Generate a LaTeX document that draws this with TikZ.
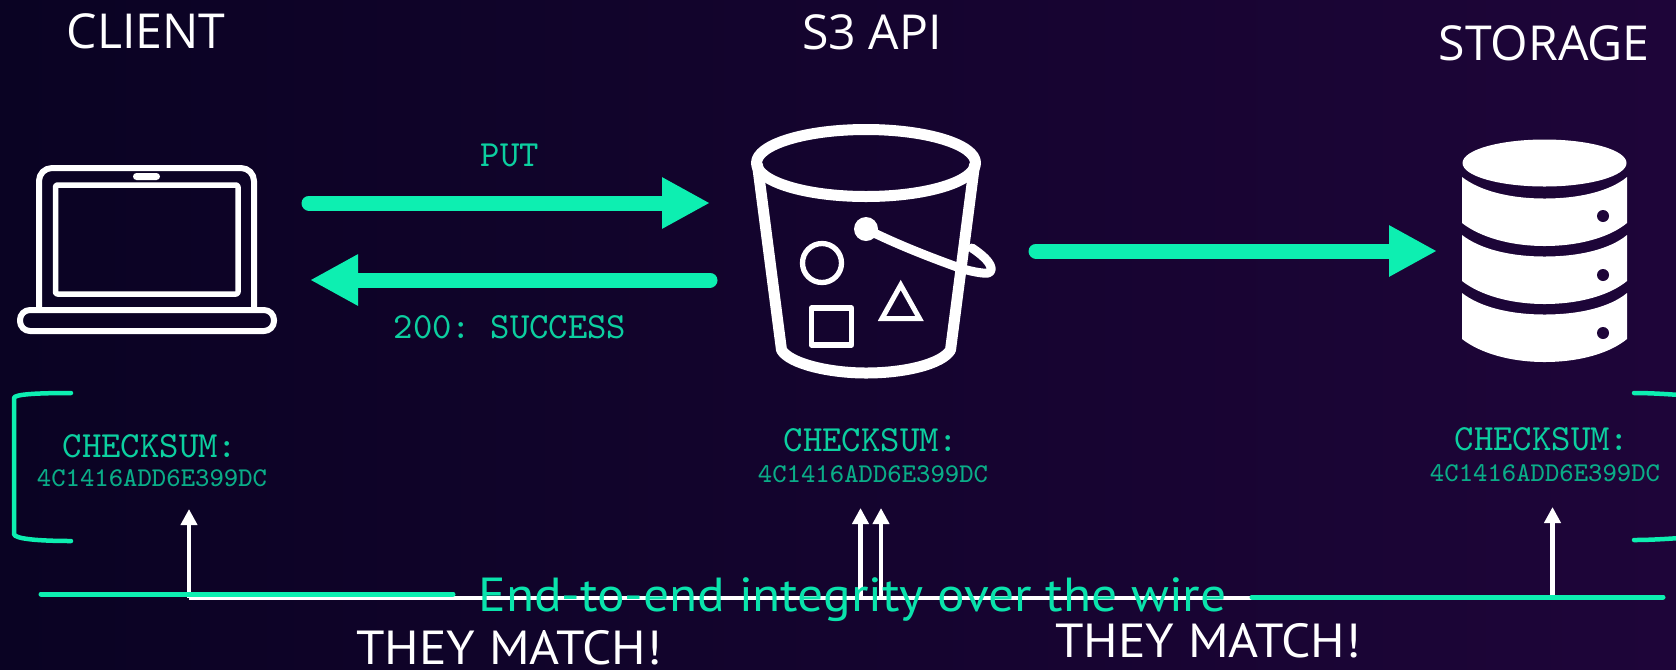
\documentclass[tikz,border=0pt]{standalone}
\usepackage{fontspec}
\usepackage{xcolor}
\usetikzlibrary{arrows.meta, positioning}
\newfontfamily\headfont{Open Sans}
\newfontfamily\matchfont{PT Sans}
\definecolor{bgleft}{HTML}{0A0323}
\definecolor{bgmid}{HTML}{130330}
\definecolor{bgright}{HTML}{1E0539}
\definecolor{mint}{HTML}{0DEFB1}
\definecolor{minttext}{HTML}{0CCFA0}
\definecolor{mintdim}{HTML}{0AAD88}
\definecolor{mintbright}{HTML}{0AE3AC}
\newcommand{\widetext}[1]{\scalebox{1.075}[1]{#1}}
\tikzset{%
	heading/.style={
		inner sep=0pt,
		text=white,
		font=\headfont\fontsize{13.7}{16}\selectfont
	},
	matchlabel/.style={
		inner sep=0pt,
		text=white,
		font=\matchfont\fontsize{13.6}{16}\selectfont
	},
	monolabel/.style={
		inner sep=0pt,
		text=minttext,
		font=\ttfamily\frenchspacing\fontsize{10.5}{12}\selectfont
	},
	hashlabel/.style={
		inner sep=0pt,
		text=mintdim,
		font=\ttfamily\fontsize{7.7}{10}\selectfont
	},
	flowarrow/.style={
		draw=mint,
		line cap=round,
		line width=15*0.01cm,
		-{Triangle[length=48*0.01cm,width=48*0.01cm]}
	},
	checkarrow/.style={
		draw=white,
		line width=4.5*0.01cm,
		-{Triangle[length=16*0.01cm,width=16*0.01cm]}
	},
	wireline/.style={
		draw=mint,
		line cap=round,
		line width=5*0.01cm
	},
	bracketline/.style={
		draw=mint,
		line cap=round,
		line join=round,
		line width=4.5*0.01cm
	},
	iconline/.style={
		draw=white,
		line join=round,
		line width=#1*0.01cm
	},
}
\begin{document}
\begin{tikzpicture}[x=0.01cm,y=-0.01cm]
	% Background
	\useasboundingbox (0,0) rectangle (1676,669);
	\fill[left color=bgleft,middle color=bgmid,right color=bgright] (0,0) rectangle (1676,669);
	
	% Titles
	\node[heading] (client) at (146,31) {CLIENT};
	\node[heading] (api) at (872,32) {S3 API};
	\node[heading] (storage) at (1544,43) {STORAGE};
	
	% Laptop
	\draw[iconline=6,rounded corners=13*0.01cm] (39,310) -- (39,168) -- (254,168) -- (254,310);
	\draw[iconline=5.5,rounded corners=2*0.01cm] (55.5,185) rectangle (238,294);
	\fill[white,rounded corners=3.5*0.01cm] (133,173) rectangle (160,180);
	\draw[iconline=6,rounded corners=10*0.01cm] (20,310) rectangle (274,331);
	
	% Bucket
	\draw[iconline=11] (866,163) ellipse (109.5 and 33.5);
	\draw[iconline=11,line cap=round] (757.5,165) -- (781.5,350) .. controls (790,364) and (830,373) .. (866,373) .. controls (905,373) and (942,364) .. (950.5,350) -- (974.5,165);
	\fill[white] (866,229) circle (12);
	\draw[iconline=9,line cap=round] (866,229) .. controls (900,246) and (935,259) .. (957,267) .. controls (968,271) and (984,274) .. (988,273) .. controls (994,271) and (993,262) .. (972,248);
	\draw[iconline=5.3] (822,263) circle (19.5);
	\draw[iconline=5.5] (811.5,308) rectangle (851.5,345);
	\draw[iconline=5,line join=miter] (900.7,285) -- (882,318.5) -- (919.5,318.5) -- cycle;
	
	% Database
	\fill[white] (1544.5,163) ellipse (82 and 23.5);
	\foreach \top/\dot in {177/216, 235/275, 293/333} {
		\fill[white] (1462,\top) .. controls (1480,\top+14) and (1510,\top+21.5) .. (1544.5,\top+21.5) .. controls (1580,\top+21.5) and (1610,\top+14) .. (1627,\top)
			-- (1627,\top+46) .. controls (1610,\top+60) and (1580,\top+69) .. (1544.5,\top+69) .. controls (1510,\top+69) and (1480,\top+60) .. (1462,\top+46) -- cycle;
		\fill[bgright] (1603,\dot) circle (6);
	}
	
	% Flow arrows
	\coordinate (putstart) at (309,203);
	\coordinate (putend) at (710,203);
	\coordinate (okstart) at (710,280);
	\coordinate (okend) at (310,280);
	\coordinate (storestart) at (1036,251);
	\coordinate (storeend) at (1437,251);
	\draw[flowarrow] (putstart) -- (putend);
	\draw[flowarrow] (okstart) -- (okend);
	\draw[flowarrow] (storestart) -- (storeend);
	\node[monolabel] (putlabel) at (510,155) {PUT};
	\node[monolabel] (oklabel) at (510,327) {200: SUCCESS};
	
	% Checksums
	\node[monolabel] (sumclient) at (150,446) {CHECKSUM:};
	\node[hashlabel] (hashclient) at (152,478) {4C1416ADD6E399DC};
	\node[monolabel] (sumapi) at (871,440) {CHECKSUM:};
	\node[hashlabel] (hashapi) at (873,474) {4C1416ADD6E399DC};
	\node[monolabel] (sumstorage) at (1542,439) {CHECKSUM:};
	\node[hashlabel] (hashstorage) at (1545,473) {4C1416ADD6E399DC};
	
	% Brackets
	\draw[bracketline] (71,393) .. controls (40,393) and (14,394) .. (14,398) -- (14,534) .. controls (14,539) and (40,541) .. (71,541);
	\draw[bracketline] (1634,393) .. controls (1650,393) and (1665,394) .. (1680,395);
	\draw[bracketline] (1634,540) .. controls (1650,540) and (1665,539) .. (1680,538);
	
	% Compare lines
	\coordinate (matchleft) at (189,598);
	\coordinate (matchmida) at (860.5,598);
	\coordinate (matchmidb) at (881,598);
	\coordinate (matchright) at (1552.5,598);
	\coordinate (tipclient) at (189,509);
	\coordinate (tipmida) at (860.5,508);
	\coordinate (tipmidb) at (881,508);
	\coordinate (tipright) at (1552.5,507);
	\draw[draw=white,line width=4*0.01cm] (matchleft) -- (matchright);
	\draw[checkarrow] (matchleft) -- (tipclient);
	\draw[checkarrow] (matchmida) -- (tipmida);
	\draw[checkarrow] (matchmidb) -- (tipmidb);
	\draw[checkarrow] (matchright) -- (tipright);
	
	% Wire lines
	\coordinate (wirea) at (41,594);
	\coordinate (wireb) at (453,594);
	\coordinate (wirec) at (1252,597);
	\coordinate (wired) at (1663,597);
	\draw[wireline] (wirea) -- (wireb);
	\draw[wireline] (wirec) -- (wired);
	\node[matchlabel,text=mintbright] (wiretext) at (852.5,600) {\widetext{End-to-end integrity over the wire}};
	
	% Match labels
	\node[matchlabel] (matcha) at (509,647.5) {\widetext{THEY MATCH!}};
	\node[matchlabel] (matchb) at (1208,641) {\widetext{THEY MATCH!}};
\end{tikzpicture}
\end{document}
